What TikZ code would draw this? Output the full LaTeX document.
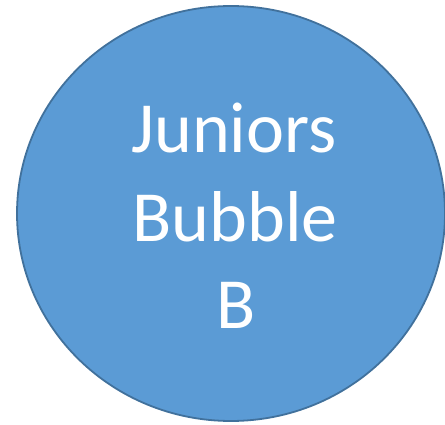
\documentclass[tikz,border=0pt]{standalone}
\usepackage{fontspec}
\setmainfont{Carlito}
\usepackage{xcolor}
\definecolor{bubblefill}{HTML}{5B9BD5}
\definecolor{bubbleedge}{HTML}{41719C}
\begin{document}
\begin{tikzpicture}[
    x=1pt, y=1pt,
    bubble/.style={draw=bubbleedge, fill=bubblefill, line width=1.8pt},
    label/.style={text=white, inner sep=0pt, anchor=base, font=\fontsize{72}{88}\selectfont}
]
    \useasboundingbox (0,0) rectangle (445,424);
    \path[bubble] (231,210.5) ellipse [x radius=214, y radius=207.5];
    \node (line1) [label] at (234,272) {Juniors};
    \node (line2) [label] at (235,183) {Bubble};
    \node (line3) [label] at (236,96) {B};
\end{tikzpicture}
\end{document}
